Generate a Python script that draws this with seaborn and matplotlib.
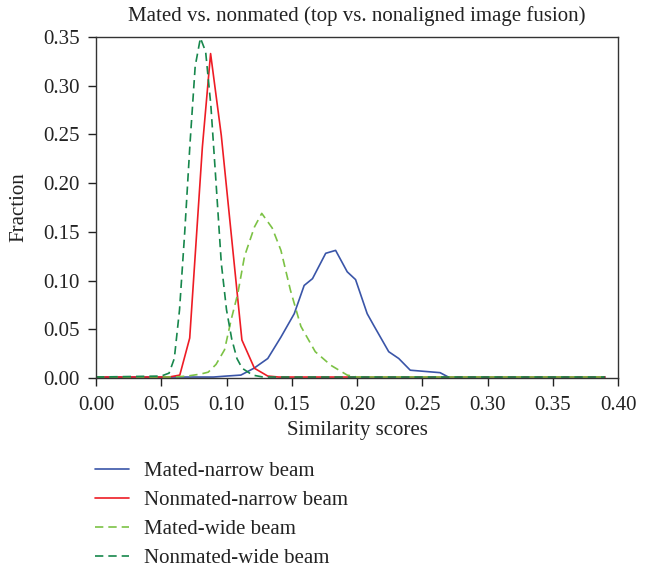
import numpy as np
import pandas as pd
import matplotlib
matplotlib.use("Agg")
import matplotlib.pyplot as plt
import seaborn as sns

# ---- data ----
mn_x = [0.0, 0.09, 0.10, 0.111, 0.121, 0.1316, 0.1417, 0.1519, 0.1595, 0.1659, 0.176, 0.1836,
        0.1925, 0.1989, 0.2078, 0.2128, 0.2243, 0.232, 0.2408, 0.2636, 0.270, 0.39]
mn_y = [0.001, 0.001, 0.002, 0.003, 0.010, 0.020, 0.042, 0.066, 0.095, 0.102, 0.128, 0.131,
        0.109, 0.101, 0.066, 0.054, 0.027, 0.020, 0.008, 0.0055, 0.001, 0.001]

nn_x = [0.0, 0.056, 0.0642, 0.0718, 0.0815, 0.0878, 0.096, 0.1118, 0.1214, 0.1316, 0.14, 0.39]
nn_y = [0.001, 0.001, 0.003, 0.041, 0.237, 0.333, 0.249, 0.039, 0.010, 0.002, 0.001, 0.001]

mw_x = [0.0, 0.06, 0.070, 0.080, 0.086, 0.092, 0.0985, 0.1036, 0.1087, 0.1138, 0.1214, 0.127,
        0.135, 0.1417, 0.149, 0.157, 0.168, 0.180, 0.1925, 0.20, 0.39]
mw_y = [0.001, 0.001, 0.002, 0.004, 0.006, 0.014, 0.029, 0.060, 0.087, 0.125, 0.155, 0.169,
        0.154, 0.131, 0.090, 0.053, 0.027, 0.013, 0.003, 0.001, 0.001]

nw_x = [0.0, 0.050, 0.056, 0.060, 0.064, 0.068, 0.072, 0.076, 0.080, 0.084, 0.088, 0.092,
        0.096, 0.100, 0.104, 0.108, 0.112, 0.120, 0.128, 0.39]
nw_y = [0.001, 0.002, 0.005, 0.020, 0.070, 0.150, 0.240, 0.320, 0.349, 0.335, 0.280, 0.200,
        0.118, 0.070, 0.040, 0.020, 0.010, 0.003, 0.001, 0.001]

labels = ["Mated-narrow beam", "Nonmated-narrow beam", "Mated-wide beam", "Nonmated-wide beam"]
colors = ["#3a55a8", "#ee1c25", "#7cc245", "#17874c"]

x_ticks = [0.00, 0.05, 0.10, 0.15, 0.20, 0.25, 0.30, 0.35, 0.40]
y_ticks = [0.00, 0.05, 0.10, 0.15, 0.20, 0.25, 0.30, 0.35]

frames = []
for lab, xs, ys in zip(labels, [mn_x, nn_x, mw_x, nw_x], [mn_y, nn_y, mw_y, nw_y]):
    frames.append(pd.DataFrame({"x": xs, "y": ys, "series": lab}))
df = pd.concat(frames, ignore_index=True)

sns.set_style("white")
plt.rcParams["font.family"] = ["Liberation Serif", "DejaVu Serif"]
FS = 15

fig = plt.figure(figsize=(6.5, 5.73), dpi=100)
ax = fig.add_axes([0.1477, 0.3403, 0.8031, 0.5951])

sns.lineplot(data=df, x="x", y="y", hue="series", style="series",
             hue_order=labels, style_order=labels,
             palette=dict(zip(labels, colors)),
             dashes={labels[0]: "", labels[1]: "", labels[2]: (5, 3), labels[3]: (5, 3)},
             sort=False, estimator=None, linewidth=1.2, ax=ax, legend=True)

ax.set_xlim(0, 0.40)
ax.set_ylim(0, 0.35)
ax.set_xticks(x_ticks)
ax.set_yticks(y_ticks)
ax.set_xticklabels([f"{v:.2f}" for v in x_ticks])
ax.set_yticklabels([f"{v:.2f}" for v in y_ticks])
ax.tick_params(axis="both", direction="out", length=6, width=1, labelsize=FS,
               bottom=True, left=True, colors="#222222", labelcolor="#222222")
ax.tick_params(axis="x", pad=7)
ax.tick_params(axis="y", pad=5.5)
for s in ax.spines.values():
    s.set_visible(True)
    s.set_color("#333333")
    s.set_linewidth(1.0)

ax.set_xlabel("Similarity scores", fontsize=FS, color="#222222")
ax.set_ylabel("Fraction", fontsize=FS, color="#222222")
ax.xaxis.set_label_coords(0.5, -0.125)
ax.yaxis.set_label_coords(-0.13, 0.5)
ax.set_title("Mated vs. nonmated (top vs. nonaligned image fusion)", fontsize=FS,
             pad=11.5, color="#222222")

handles, labs = ax.get_legend_handles_labels()
ax.get_legend().remove()
fig.legend(handles, labs, loc="upper left", bbox_to_anchor=(0.146, 0.194),
           frameon=False, fontsize=FS, labelspacing=0.45, handlelength=1.63,
           handletextpad=0.72, borderaxespad=0, borderpad=0, labelcolor="#222222")

fig.savefig("out.png", dpi=100)
